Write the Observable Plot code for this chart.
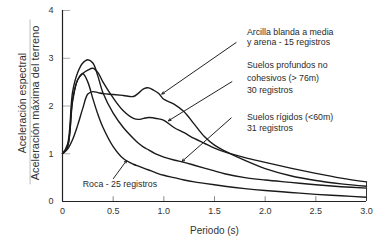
<!DOCTYPE html>
<html>
<head>
<meta charset="utf-8">
<script src="https://cdn.jsdelivr.net/npm/d3@7"></script>
<script src="https://cdn.jsdelivr.net/npm/@observablehq/plot@0.6"></script>
<style>
  html, body { margin: 0; padding: 0; background: #fff; }
</style>
</head>
<body>
<div id="chart"></div>
<script>
// Period (s)
const periods = [0, 0.05, 0.1, 0.15, 0.2, 0.25, 0.3, 0.35, 0.4, 0.5, 0.6, 0.7, 0.75, 0.8, 0.85, 0.9, 0.95, 1.0, 1.1, 1.2, 1.3, 1.4, 1.5, 1.6, 1.8, 2.0, 2.25, 2.5, 2.75, 3.0];

// Spectral amplification per site condition
const roca      = [1.0, 1.15, 2.1, 2.55, 2.68, 2.5, 2.15, 1.82, 1.55, 1.15, 0.9, 0.78, 0.74, 0.7, 0.66, 0.62, 0.58, 0.55, 0.5, 0.45, 0.41, 0.38, 0.35, 0.32, 0.27, 0.23, 0.19, 0.15, 0.12, 0.09];
const rigidos   = [1.0, 1.2, 2.3, 2.7, 2.9, 2.97, 2.9, 2.62, 2.27, 1.85, 1.55, 1.32, 1.22, 1.14, 1.08, 1.02, 0.97, 0.93, 0.87, 0.82, 0.76, 0.7, 0.64, 0.58, 0.5, 0.45, 0.4, 0.35, 0.31, 0.28];
const profundos = [1.0, 1.15, 2.15, 2.55, 2.68, 2.75, 2.79, 2.7, 2.5, 2.17, 1.9, 1.74, 1.72, 1.74, 1.76, 1.75, 1.73, 1.7, 1.55, 1.44, 1.32, 1.22, 1.12, 1.04, 0.92, 0.82, 0.7, 0.59, 0.49, 0.41];
const arcilla   = [1.0, 1.1, 1.3, 1.6, 1.95, 2.25, 2.3, 2.28, 2.26, 2.24, 2.22, 2.2, 2.27, 2.36, 2.38, 2.33, 2.26, 2.14, 2.04, 1.88, 1.62, 1.36, 1.18, 1.06, 0.86, 0.69, 0.54, 0.44, 0.37, 0.32];

const seriesNames = ["roca", "rigidos", "profundos", "arcilla"];
const seriesValues = [roca, rigidos, profundos, arcilla];

// Axis ticks
const xTicks = [0, 0.5, 1.0, 1.5, 2.0, 2.5, 3.0];
const xTickLabels = ["0", "0.5", "1.0", "1.5", "2.0", "2.5", "3.0"];
const yTicks = [0, 1, 2, 3, 4];
const yTickLabels = ["0", "1", "2", "3", "4"];

// Annotation text lines (period, value, text)
const labelT    = [1.82, 1.82, 1.82, 1.82, 1.82, 1.82, 1.82, 0.2];
const labelV    = [3.54, 3.33, 2.85, 2.58, 2.33, 1.77, 1.53, 0.37];
const labelText = ["Arcilla blanda a media", "y arena - 15 registros",
                   "Suelos profundos no", "cohesivos (> 76m)", "30 registros",
                   "Suelos rígidos (<60m)", "31 registros",
                   "Roca - 25 registros"];

// Leader arrows (from label to curve)
const arrowT1 = [1.714, 1.672, 1.665, 0.502];
const arrowV1 = [3.33, 2.51, 1.75, 0.48];
const arrowT2 = [0.98, 1.045, 1.18, 0.633];
const arrowV2 = [2.25, 1.69, 0.84, 0.86];

const rows = [];
seriesNames.forEach((name, s) => {
  periods.forEach((t, i) => rows.push({serie: name, t, v: seriesValues[s][i]}));
});
const labels = labelText.map((text, i) => ({t: labelT[i], v: labelV[i], text}));
const arrows = arrowT1.map((t1, i) => ({t1, v1: arrowV1[i], t2: arrowT2[i], v2: arrowV2[i]}));

const font = "'Liberation Sans', Arial, Helvetica, sans-serif";

const chart = Plot.plot({
  width: 374,
  height: 240,
  marginLeft: 62,
  marginRight: 8,
  marginTop: 10,
  marginBottom: 39,
  x: {domain: [0, 3]},
  y: {domain: [0, 4]},
  style: {fontFamily: font, fontSize: "9px", color: "#333", background: "#fff"},
  marks: [
    // inward ticks
    Plot.ruleY(yTicks.slice(1), {x1: 0, x2: 0.08, stroke: "#aaa", strokeWidth: 1}),
    Plot.ruleX(xTicks.slice(1), {y1: 0, y2: 0.1, stroke: "#888", strokeWidth: 1}),
    Plot.axisX(xTicks, {tickSize: 0, tickPadding: 6, tickFormat: (d, i) => xTickLabels[i], fontSize: 9, label: null}),
    Plot.axisY(yTicks, {tickSize: 0, tickPadding: 9, tickFormat: (d, i) => yTickLabels[i], fontSize: 9, label: null}),
    // curves
    Plot.line(rows, {x: "t", y: "v", z: "serie", curve: "catmull-rom", stroke: "#1a1a1a", strokeWidth: 1.4}),
    // closing rule at right end
    Plot.ruleX([3], {y1: 0, y2: profundos[profundos.length - 1], stroke: "#333", strokeWidth: 1}),
    // axes lines
    Plot.ruleX([0], {stroke: "#222", strokeWidth: 1.2}),
    Plot.ruleY([0], {stroke: "#222", strokeWidth: 1.2}),
    // leader arrows
    Plot.arrow(arrows, {x1: "t1", y1: "v1", x2: "t2", y2: "v2", stroke: "#222", strokeWidth: 1, headLength: 4, headAngle: 50}),
    // annotation labels
    Plot.text(labels, {x: "t", y: "v", text: "text", textAnchor: "start", fontSize: 8.8, fill: "#2a2a2a"}),
    // axis titles
    Plot.text(["Periodo (s)"], {frameAnchor: "bottom", dy: 29, lineAnchor: "middle", fontSize: 10, fill: "#333"}),
    Plot.text(["Aceleración espectral"], {frameAnchor: "left", dx: -40, dy: -3, rotate: -90, textAnchor: "middle", lineAnchor: "middle", fontSize: 10.5, fill: "#333"}),
    Plot.text(["Aceleración máxima del terreno"], {frameAnchor: "left", dx: -27, dy: -3, rotate: -90, textAnchor: "middle", lineAnchor: "middle", fontSize: 11, fill: "#333"}),
    Plot.ruleX([-0.32], {y1: 0.35, y2: 3.8, stroke: "#aaa", strokeWidth: 0.8, clip: false})
  ]
});
document.getElementById("chart").appendChild(chart);
</script>
</body>
</html>
